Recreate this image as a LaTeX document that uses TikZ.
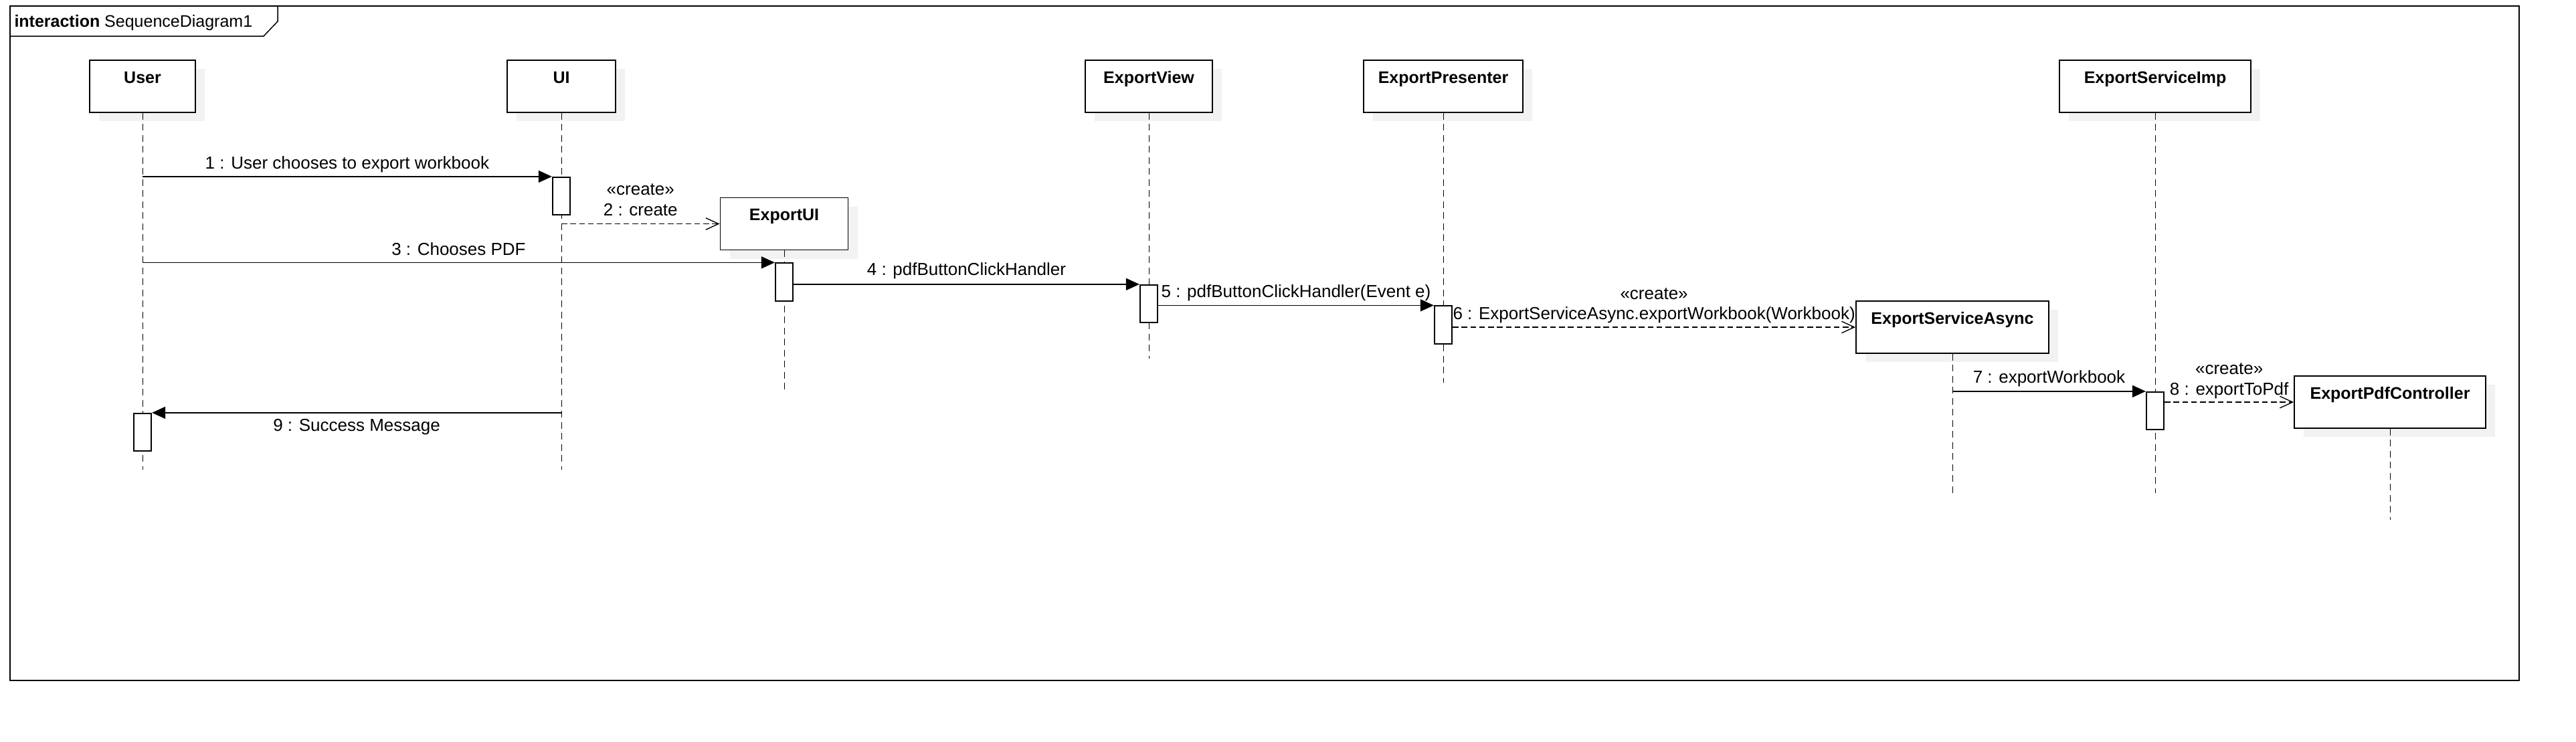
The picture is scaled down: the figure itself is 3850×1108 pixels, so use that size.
\documentclass[tikz,border=0pt]{standalone}
\usepackage{fontspec}
\setmainfont{Liberation Sans}
\usetikzlibrary{arrows.meta,shadows}

\tikzset{
  lifebox/.style={draw,line width=0.75pt,fill=white,font=\bfseries,
    inner xsep=0pt,inner ysep=0pt,text height=13.6pt,text depth=17.6pt,
    drop shadow={shadow xshift=5.6pt,shadow yshift=-5.2pt,fill=black!5,opacity=1}},
  actbox/.style={draw,line width=0.7pt,fill=white,inner sep=0pt,
    minimum width=10.6pt,minimum height=22.6pt},
  lifeline/.style={line width=0.4pt,dash pattern=on 4pt off 2.6pt},
  syncmsg/.style={line width=0.55pt,-{Triangle[length=8pt,width=7.2pt]}},
  createmsg/.style={line width=0.55pt,dash pattern=on 3.4pt off 1.9pt,
    -{Straight Barb[length=7.6pt,width=7pt]}},
  msglabel/.style={font=\fontsize{10.4pt}{12.5pt}\selectfont,anchor=base,inner sep=0pt}
}

\begin{document}
\begin{tikzpicture}[x=0.4pt,y=-0.4pt]
\useasboundingbox (0,0) rectangle (3850,1108);
\fill[white] (0,0) rectangle (3850,1108);
% frame
\draw[line width=0.7pt] (15,9) rectangle (3765,1017);
\draw[line width=0.6pt] (15,54) -- (394,54) -- (415,32) -- (415,9);
\node[anchor=base west,inner sep=0pt] (frametitle) at (21,40) {\textbf{interaction} SequenceDiagram1};
% lifelines
\node[lifebox,minimum width=63.2pt] (user) at (213,129) {User};
\node[lifebox,minimum width=64.8pt] (ui) at (839,129) {UI};
\node[lifebox,minimum width=76.4pt] (exportui) at (1172,334.5) {ExportUI};
\node[lifebox,minimum width=76pt] (exportview) at (1717,129) {ExportView};
\node[lifebox,minimum width=95.2pt] (presenter) at (2157,129) {ExportPresenter};
\node[lifebox,minimum width=115.2pt] (async) at (2918,489) {ExportServiceAsync};
\node[lifebox,minimum width=114.4pt] (imp) at (3221,129) {ExportServiceImp};
\node[lifebox,minimum width=114.4pt] (pdfctl) at (3572,601) {ExportPdfController};
\coordinate (userend) at (213,702);
\coordinate (uiend) at (839,702);
\coordinate (exportuiend) at (1172,585);
\coordinate (exportviewend) at (1717,536);
\coordinate (presenterend) at (2157,572);
\coordinate (asyncend) at (2918,737);
\coordinate (impend) at (3221,737);
\coordinate (pdfctlend) at (3572,777);
\draw[lifeline] (user.south) -- (userend);
\draw[lifeline] (ui.south) -- (uiend);
\draw[lifeline] (exportui.south) -- (exportuiend);
\draw[lifeline] (exportview.south) -- (exportviewend);
\draw[lifeline] (presenter.south) -- (presenterend);
\draw[lifeline] (async.south) -- (asyncend);
\draw[lifeline] (imp.south) -- (impend);
\draw[lifeline] (pdfctl.south) -- (pdfctlend);
% activations
\node[actbox] (uiact) at (839,293) {};
\node[actbox] (exportuiact) at (1172,421.5) {};
\node[actbox] (viewact) at (1717,454) {};
\node[actbox] (presenteract) at (2157,485.5) {};
\node[actbox] (impact) at (3221,614) {};
\node[actbox] (useract) at (213,646) {};
% messages
\draw[syncmsg] (user |- uiact.north) -- (uiact.north west)
  node[msglabel,midway,yshift=4.6pt] (m1) {1 : User chooses to export workbook};
\draw[createmsg] (ui |- exportui.west) -- (exportui.west)
  node[msglabel,midway,yshift=4.8pt] (m2) {2 : create}
  node[msglabel,midway,yshift=17.2pt] (s2) {«create»};
\draw[syncmsg] (user |- exportuiact.north) -- (exportuiact.north west)
  node[msglabel,midway,yshift=4.4pt] (m3) {3 : Chooses PDF};
\draw[syncmsg] (exportuiact.east |- viewact.north) -- (viewact.north west)
  node[msglabel,midway,yshift=5.2pt] (m4) {4 : pdfButtonClickHandler};
\draw[syncmsg] (viewact.east |- presenteract.north) -- (presenteract.north west)
  node[msglabel,midway,yshift=4.8pt] (m5) {5 : pdfButtonClickHandler(Event e)};
\draw[createmsg] (presenteract.east |- async.west) -- (async.west)
  node[msglabel,midway,yshift=4.6pt] (m6) {6 : ExportServiceAsync.exportWorkbook(Workbook)}
  node[msglabel,midway,yshift=16.8pt] (s6) {«create»};
\draw[syncmsg] (async |- impact.north) -- (impact.north west)
  node[msglabel,midway,yshift=4.8pt] (m7) {7 : exportWorkbook};
\draw[createmsg] (impact.east |- pdfctl.west) -- (pdfctl.west)
  node[msglabel,midway,yshift=4.4pt] (m8) {8 : exportToPdf}
  node[msglabel,midway,yshift=16.8pt] (s8) {«create»};
\draw[syncmsg] (ui |- useract.north) -- (useract.north east)
  node[msglabel,midway,yshift=-11.2pt] (m9) {9 : Success Message};
\end{tikzpicture}
\end{document}
